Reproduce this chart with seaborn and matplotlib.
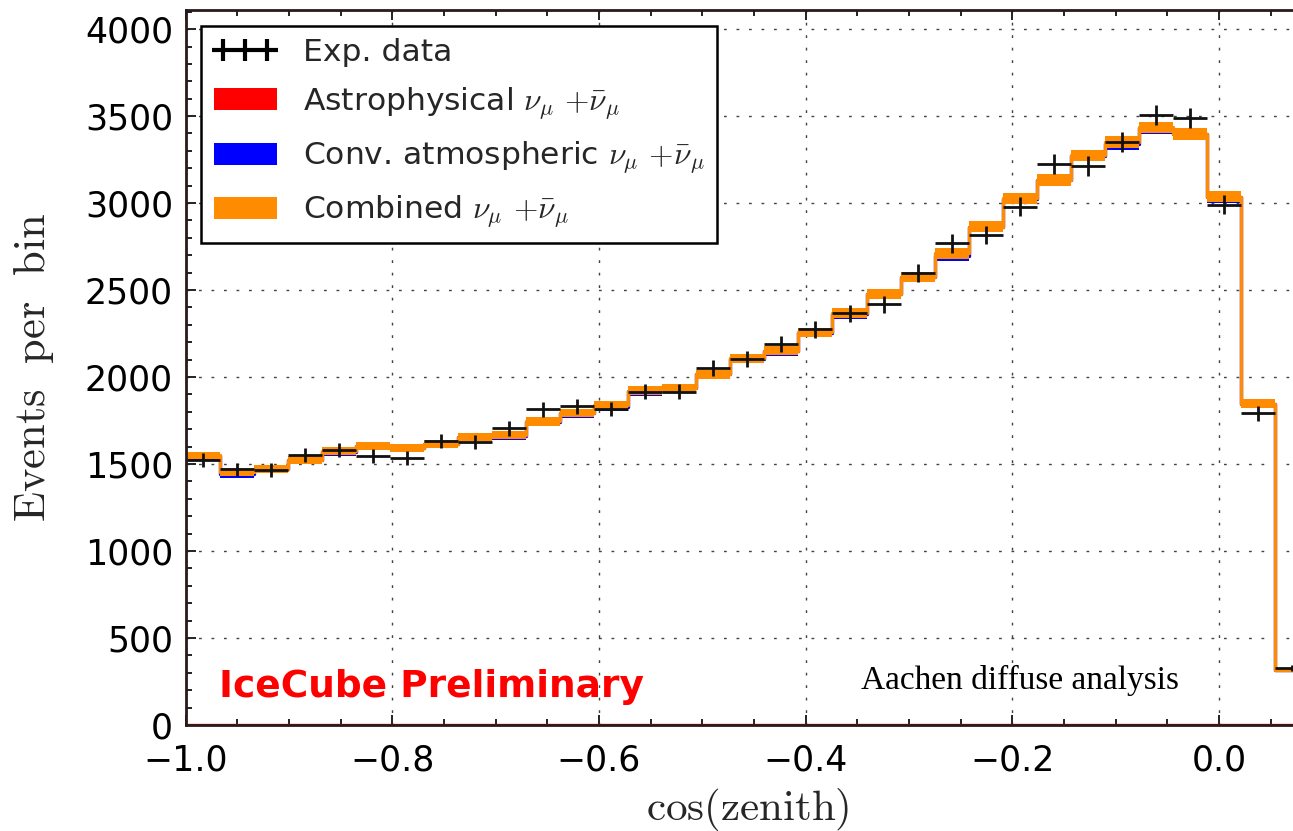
import numpy as np
import pandas as pd
import matplotlib
matplotlib.use("Agg")
import matplotlib.pyplot as plt
import seaborn as sns
from matplotlib.lines import Line2D
from matplotlib.patches import Patch
from matplotlib.ticker import MultipleLocator

# Binning in cos(zenith): 33 equal bins from straight up-going to 5 degrees above the horizon
n_bins = 33
cos_min, cos_max = -1.0, 0.0872
edges = np.linspace(cos_min, cos_max, n_bins + 1)
centers = 0.5 * (edges[:-1] + edges[1:])
half_width = 0.5 * (edges[1] - edges[0])

# Observed events per bin
exp_data = [1523, 1470, 1466, 1553, 1580, 1546, 1533, 1632, 1625, 1705,
            1814, 1833, 1816, 1916, 1916, 2050, 2102, 2188, 2274, 2366,
            2418, 2596, 2768, 2816, 2979, 3224, 3213, 3352, 3506, 3490,
            2989, 1791, 326]

# Best-fit expectation: conventional atmospheric + astrophysical
combined = [1549, 1454, 1473, 1523, 1573, 1603, 1594, 1615, 1657, 1665,
            1745, 1793, 1839, 1921, 1937, 2017, 2107, 2151, 2257, 2366,
            2479, 2575, 2711, 2864, 3027, 3132, 3274, 3352, 3435, 3397,
            3036, 1847, 318]

conv_atmo = [1547, 1440, 1471, 1521, 1571, 1601, 1592, 1613, 1655, 1663,
             1743, 1791, 1828, 1919, 1935, 2015, 2105, 2149, 2255, 2364,
             2477, 2573, 2698, 2862, 3025, 3130, 3272, 3339, 3433, 3395,
             3034, 1845, 316]

astro = [2, 2, 2, 2, 2, 2, 2, 2, 2, 2,
         2, 2, 2, 2, 2, 2, 2, 2, 2, 2,
         2, 2, 2, 2, 2, 2, 2, 2, 2, 2,
         2, 2, 1]

# MC sample corresponds to three times the data livetime
mc_scale = 3.0

sns.set_style("ticks")
plt.rcParams["font.family"] = ["DejaVu Sans"]
plt.rcParams["mathtext.fontset"] = "cm"
plt.rcParams["axes.unicode_minus"] = True

fig = plt.figure(figsize=(12.93, 8.31), dpi=100)
fig.patch.set_facecolor("white")
ax = fig.add_axes([0.1435, 0.1276, 0.869, 0.8604])
ax.set_facecolor("white")

components = [("astro", astro, "#ff0000"),
              ("conv", conv_atmo, "#0000ff"),
              ("combined", combined, "#ff8c00")]
for name, values, color in components:
    vals = np.asarray(values, dtype=float)
    band = np.sqrt(vals / mc_scale)
    step_df = pd.DataFrame({"cos_zenith": edges,
                            "events": np.r_[vals, vals[-1]],
                            "lo": np.r_[vals - band, vals[-1] - band[-1]],
                            "hi": np.r_[vals + band, vals[-1] + band[-1]]})
    ax.fill_between(step_df["cos_zenith"], step_df["lo"], step_df["hi"],
                    step="post", color=color, lw=0, zorder=2)
    sns.lineplot(data=step_df, x="cos_zenith", y="events", estimator=None,
                 drawstyle="steps-post", color=color, lw=2.4, ax=ax, zorder=2)

exp_arr = np.asarray(exp_data, dtype=float)
ax.errorbar(centers, exp_arr, xerr=half_width, yerr=np.sqrt(exp_arr),
            fmt="none", ecolor="#111111", elinewidth=2.0, capsize=0, zorder=5)

ax.set_xlim(cos_min, cos_max)
ax.set_ylim(0, 4110)
ax.xaxis.set_major_locator(MultipleLocator(0.2))
ax.xaxis.set_minor_locator(MultipleLocator(0.05))
ax.yaxis.set_major_locator(MultipleLocator(500))
ax.yaxis.set_minor_locator(MultipleLocator(100))

ax.grid(True, which="major", color="#222222", linestyle=(0, (2, 7)), lw=1.0, alpha=0.85)
ax.tick_params(which="both", direction="in", top=True, right=True,
               width=1.4, colors="#222222", labelcolor="black")
ax.tick_params(which="major", length=7.2, labelsize=25)
ax.tick_params(axis="x", which="major", pad=13)
ax.tick_params(axis="y", which="major", pad=9)
ax.tick_params(which="minor", length=4.3)
for sp in ax.spines.values():
    sp.set_linewidth(2.0)
    sp.set_color("#2a1a1a")
    sp.set_zorder(6)

ax.set_xlabel(r"$\mathrm{cos(zenith)}$", fontsize=31)
ax.set_ylabel(r"$\mathrm{Events\ \ per\ \ bin}$", fontsize=32)
ax.xaxis.set_label_coords(0.5, -0.086)
ax.yaxis.set_label_coords(-0.115, 0.5)

handles = [
    Line2D([], [], ls="none", marker="+", ms=16, mew=3, color="black"),
    Patch(facecolor="#ff0000", edgecolor="none"),
    Patch(facecolor="#0000ff", edgecolor="none"),
    Patch(facecolor="#ff8c00", edgecolor="none"),
]
labels = [
    "Exp. data",
    r"Astrophysical $\nu_\mu$ $+\bar{\nu}_\mu$",
    r"Conv. atmospheric $\nu_\mu$ $+\bar{\nu}_\mu$",
    r"Combined $\nu_\mu$ $+\bar{\nu}_\mu$",
]
leg = ax.legend(handles, labels, loc="upper left", fontsize=22.6, numpoints=3,
                fancybox=False, framealpha=1.0, edgecolor="black",
                borderaxespad=0.5, labelspacing=0.58, handletextpad=0.85)
leg.get_frame().set_linewidth(1.8)
leg.set_zorder(10)

ax.text(0.0298, 0.039, "IceCube Preliminary", transform=ax.transAxes,
        color="#ff0000", fontsize=27, fontweight="bold", va="baseline",
        ha="left", zorder=7)
ax.text(0.601, 0.050, "Aachen diffuse analysis", transform=ax.transAxes,
        color="black", fontsize=24, family=["Liberation Serif"],
        va="baseline", ha="left", zorder=7)

fig.savefig("out.png", dpi=100, facecolor="white")
